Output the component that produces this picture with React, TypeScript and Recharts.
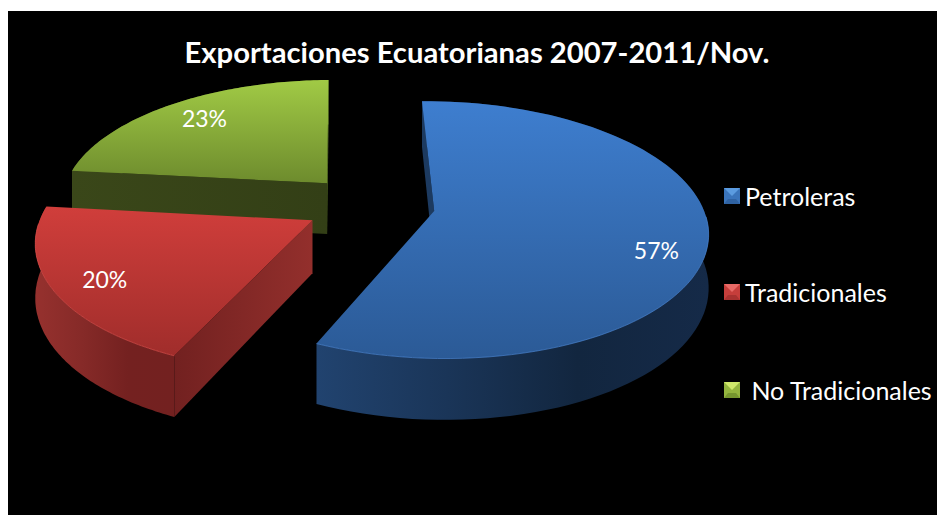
import React from 'react';
import { PieChart, Pie, Legend } from 'recharts';

const categories = ['Petroleras', 'Tradicionales', 'No Tradicionales'];
const shares = [57, 20, 23];
const legendLabels = ['Petroleras', 'Tradicionales', ' No Tradicionales'];
const title = 'Exportaciones Ecuatorianas 2007-2011/Nov.';

const FONT = 'Lato, Carlito, sans-serif';

// Colours of each slice: top face, rim, outer side, cut wall
const PALETTE: Record<string, any> = {
  Petroleras: {
    top: ['#3e7ecf', '#2b5a96'],
    rim: '#4a85d2',
    side: ['#21436f', '#1a3558', '#12263f', '#152a48'],
    wall: ['#1c3a60', '#1c3a60'],
    sliver: '#1c3a60',
    swatch: ['#5b9be0', '#3a74bb', '#2f62a2'],
  },
  Tradicionales: {
    top: ['#d03e3b', '#a02d2b'],
    rim: '#dc4f4b',
    side: ['#96312e', '#862a28', '#742120', '#732120'],
    wall: ['#722120', '#932f2c'],
    sliver: '#932f2c',
    swatch: ['#e86a66', '#c63e3b', '#a83230'],
  },
  'No Tradicionales': {
    top: ['#a1ca45', '#6d8b2d'],
    rim: '#8aa93a',
    side: ['#4c5f20', '#3e4e1a', '#3e4e1a', '#5f7a26'],
    wall: ['#3a4719', '#333f16'],
    sliver: '#64802a',
    swatch: ['#cfe86a', '#94b53e', '#76962f'],
  },
};

// Label placement tweak (px) per slice
const LABEL_SHIFT: Record<string, number[]> = {
  Petroleras: [4, 18],
  Tradicionales: [-3, 4],
  'No Tradicionales': [4, -1],
};

// Fake 3D: a projective tilt of the unit pie
const TILT = 0.145;
const EXPLODE = 0.243;
const SQUASH = 125.5 / 271;
const DEPTH = 52;

function project(cx: number, cy: number, r: number, mid: number, ux: number, uy: number, drop = 0) {
  const m = (mid * Math.PI) / 180;
  const X = EXPLODE * Math.cos(m) + ux;
  const Y = -EXPLODE * Math.sin(m) + uy;
  const w = 1 - TILT * Y;
  return [cx + (r * X) / w, cy + (r * SQUASH * Y + drop) / w];
}

function toPath(points: number[][]) {
  return points.map((p, i) => `${i ? 'L' : 'M'}${p[0].toFixed(1)},${p[1].toFixed(1)}`).join(' ') + ' Z';
}

// a cut wall shows only when dropping its edge moves it away from the top face
function wallShows(apex: number[], rim: number[], inside: number[]) {
  const ex = rim[0] - apex[0];
  const ey = rim[1] - apex[1];
  const side = ex * (inside[1] - apex[1]) - ey * (inside[0] - apex[0]);
  return side * ex < 0;
}

function Slice3D(props: any) {
  const { cx, cy, outerRadius, startAngle, endAngle, name } = props;
  const colors = PALETTE[name];
  const id = name.replace(/\s/g, '');
  const mid = (startAngle + endAngle) / 2;
  const steps = 90;
  const angleAt = (i: number) => ((startAngle + ((endAngle - startAngle) * i) / steps) * Math.PI) / 180;
  const arc = (drop: number) => {
    const out: number[][] = [];
    for (let i = 0; i <= steps; i++) {
      const a = angleAt(i);
      out.push(project(cx, cy, outerRadius, mid, Math.cos(a), -Math.sin(a), drop));
    }
    return out;
  };
  const apex = project(cx, cy, outerRadius, mid, 0, 0);
  const apexLow = project(cx, cy, outerRadius, mid, 0, 0, DEPTH);
  const rimTop = arc(0);
  const rimLow = arc(DEPTH);
  const inside = rimTop[steps / 2];

  // only the part of the rim that faces the viewer gets a highlight line
  const frontRim = rimTop.filter((_, i) => -Math.sin(angleAt(i)) > 0.02);

  return (
    <g>
      <defs>
        <linearGradient id={`top-${id}`} x1="0" y1="0" x2="0" y2="1">
          <stop offset="0%" stopColor={colors.top[0]} />
          <stop offset="100%" stopColor={colors.top[1]} />
        </linearGradient>
        <linearGradient id={`side-${id}`} x1="0" y1="0" x2="1" y2="0">
          {colors.side.map((c: string, i: number) => (
            <stop key={i} offset={`${(i * 100) / (colors.side.length - 1)}%`} stopColor={c} />
          ))}
        </linearGradient>
        <linearGradient id={`wall-${id}`} x1="0" y1="0" x2="1" y2="0">
          <stop offset="0%" stopColor={colors.wall[0]} />
          <stop offset="100%" stopColor={colors.wall[1]} />
        </linearGradient>
      </defs>
      <path d={toPath([...rimTop, ...rimLow.slice().reverse()])} fill={`url(#side-${id})`} />
      {wallShows(apex, rimTop[0], inside) && (
        <path d={toPath([apex, rimTop[0], rimLow[0], apexLow])} fill={colors.sliver} />
      )}
      {wallShows(apex, rimTop[steps], inside) && (
        <path d={toPath([apex, rimTop[steps], rimLow[steps], apexLow])} fill={`url(#wall-${id})`} />
      )}
      <path d={toPath([apex, ...rimTop])} fill={`url(#top-${id})`} />
      {frontRim.length > 1 && (
        <polyline
          points={frontRim.map((p) => `${p[0].toFixed(1)},${p[1].toFixed(1)}`).join(' ')}
          fill="none"
          stroke={colors.rim}
          strokeWidth={1}
          strokeOpacity={0.7}
        />
      )}
    </g>
  );
}

function renderPercent(props: any) {
  const { cx, cy, outerRadius, midAngle, percent, name } = props;
  const a = (midAngle * Math.PI) / 180;
  const p = project(cx, cy, outerRadius, midAngle, 0.8 * Math.cos(a), -0.8 * Math.sin(a));
  const shift = LABEL_SHIFT[name];
  return (
    <text
      x={p[0] + shift[0]}
      y={p[1] + shift[1]}
      fill="#ffffff"
      fontSize={23}
      fontFamily={FONT}
      textAnchor="middle"
      dominantBaseline="central"
    >
      {`${Math.round(percent * 100)}%`}
    </text>
  );
}

function LegendBox() {
  const tops = [-2, 94, 192];
  return (
    <div style={{ position: 'relative', width: 220, height: 220 }}>
      {categories.map((c, i) => {
        const sw = PALETTE[c].swatch;
        return (
          <div key={c} style={{ position: 'absolute', top: tops[i], left: 1, height: 30, display: 'flex', alignItems: 'center' }}>
            <svg width={16} height={16} style={{ marginRight: 5, flex: 'none' }}>
              <rect width={16} height={16} fill={sw[1]} />
              <path d="M0,0 L16,0 L8,8 Z" fill={sw[0]} />
              <path d="M0,16 L16,16 L12,11 L4,11 Z" fill={sw[2]} />
            </svg>
            <span style={{ color: '#fff', fontFamily: FONT, fontSize: 25, whiteSpace: 'pre' }}>{legendLabels[i]}</span>
          </div>
        );
      })}
    </div>
  );
}

export default function App() {
  // painted green first so the red slice lies over its wall
  const data = categories.map((name, i) => ({ name, value: shares[i] })).reverse();

  return (
    <div style={{ position: 'absolute', left: 8, top: 11, width: 929, height: 504, background: '#000', overflow: 'hidden' }}>
      <div
        style={{
          position: 'absolute',
          left: 0,
          width: 938,
          top: 23,
          textAlign: 'center',
          color: '#fff',
          fontFamily: FONT,
          fontWeight: 700,
          fontSize: 29.2,
          whiteSpace: 'nowrap',
        }}
      >
        {title}
      </div>
      <PieChart width={929} height={504} margin={{ top: 0, right: 0, bottom: 0, left: 0 }}>
        <Pie
          data={data}
          dataKey="value"
          nameKey="name"
          cx={362}
          cy={194}
          innerRadius={0}
          outerRadius={268}
          startAngle={91}
          endAngle={451}
          stroke="none"
          isAnimationActive={false}
          shape={Slice3D}
          inactiveShape={Slice3D}
          label={renderPercent}
          labelLine={false}
        />
        <Legend
          content={() => <LegendBox />}
          wrapperStyle={{ position: 'absolute', left: 715, top: 172, width: 220, height: 220 }}
        />
      </PieChart>
    </div>
  );
}
